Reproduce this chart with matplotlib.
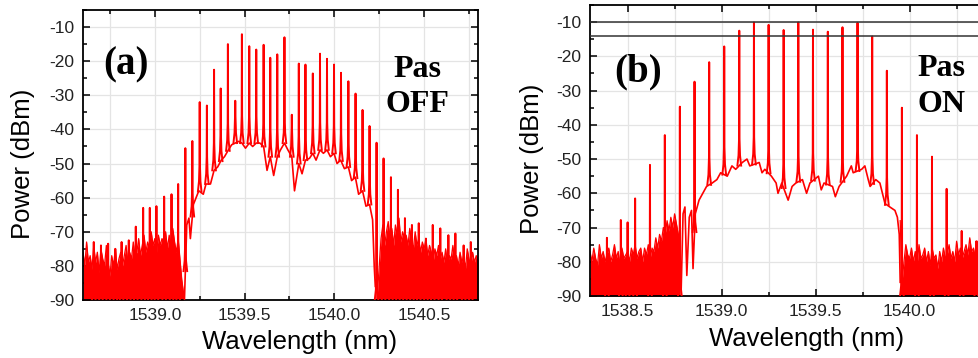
import numpy as np
import matplotlib
matplotlib.use('Agg')
import matplotlib.pyplot as plt
from matplotlib.ticker import MultipleLocator

# ---------------- Panel (a): Pas OFF ----------------
a_peak_wl = [1538.66, 1538.70, 1538.74, 1538.78, 1538.815, 1538.855, 1538.894, 1538.935, 1538.972,
             1539.009, 1539.052, 1539.093, 1539.130, 1539.170, 1539.209, 1539.250, 1539.290, 1539.330,
             1539.367, 1539.407, 1539.448, 1539.485, 1539.526, 1539.565, 1539.606, 1539.643, 1539.682,
             1539.722, 1539.763, 1539.802, 1539.839, 1539.880, 1539.920, 1539.959, 1539.998,
             1540.037, 1540.078, 1540.118, 1540.157, 1540.196, 1540.235, 1540.274, 1540.315, 1540.354,
             1540.393, 1540.432, 1540.470, 1540.510, 1540.548, 1540.590, 1540.635, 1540.674, 1540.720, 1540.760]
a_peak_db = [-73, -74, -73.5, -75, -73, -72.5, -68.5, -63, -63,
             -62.5, -59.7, -59, -56, -45.5, -43.4, -32, -33, -22.5,
             -28, -15, -31.6, -12.1, -15.6, -16.6, -15.2, -19, -18,
             -13, -35.7, -20.7, -21, -23.6, -17.8, -19.3, -21,
             -23.4, -25.9, -29.5, -34.3, -39, -43.9, -48.5, -54, -57.7,
             -66, -68, -67.5, -72, -68, -69, -71, -70.5, -74, -73]

a_cont_wl = [1539.165, 1539.178, 1539.190, 1539.198, 1539.215, 1539.230, 1539.245, 1539.270, 1539.285,
             1539.310, 1539.330, 1539.350, 1539.370, 1539.388, 1539.410, 1539.428, 1539.448, 1539.467,
             1539.485, 1539.505, 1539.526, 1539.545, 1539.565, 1539.585, 1539.606, 1539.625, 1539.643,
             1539.662, 1539.682, 1539.700, 1539.722, 1539.741, 1539.763, 1539.778, 1539.802, 1539.820,
             1539.839, 1539.861, 1539.880, 1539.898, 1539.920, 1539.939, 1539.959, 1539.978, 1539.998,
             1540.015, 1540.035, 1540.056, 1540.078, 1540.096, 1540.117, 1540.135, 1540.157, 1540.176,
             1540.196, 1540.213, 1540.222, 1540.228]
a_cont_db = [-90, -68, -66, -72, -62, -60, -58, -59, -56,
             -56, -52, -51, -49, -48, -46, -44.5, -44, -43.5,
             -44, -45.5, -44, -45, -44, -44, -45, -52, -48,
             -53.5, -48, -46, -44, -46, -48, -58, -50, -53,
             -49, -48.5, -47, -49, -46, -47, -46, -48, -47,
             -50, -49, -51.5, -51, -55, -54, -59, -58, -62.5,
             -62, -66.5, -80, -86]

a_noise_left_start = 1538.60
a_noise_left_db = [-76, -80, -73, -79, -77, -81, -74, -79, -76, -82, -75, -78, -80, -74, -79,
                   -83, -77, -80, -75, -81, -78, -76, -80, -77, -74, -79, -76, -78, -73, -77,
                   -76, -72, -77, -74, -71, -76, -73, -75, -70, -74, -72, -76, -71, -74, -72,
                   -73, -70, -75, -71, -74, -69, -73, -76, -72, -78, -84, -88]
a_noise_right_start = 1540.23
a_noise_right_db = [-84, -88, -80, -72, -68, -74, -70,
                    -67, -72, -69, -74, -68, -71, -66, -73, -70, -72,
                    -71, -74, -69, -73, -75, -70, -74, -72, -76, -73,
                    -75, -72, -77, -74, -76, -79, -75, -77, -74, -78,
                    -76, -79, -75, -80, -77, -78, -74, -79, -77, -80,
                    -76, -79, -77, -81, -75, -78, -80, -76, -79, -77, -78]

# ---------------- Panel (b): Pas ON ----------------
b_peak_wl = [1538.39, 1538.464, 1538.500, 1538.540, 1538.619, 1538.698, 1538.778, 1538.856, 1538.934,
             1539.014, 1539.094, 1539.172, 1539.250, 1539.330, 1539.408, 1539.486, 1539.565, 1539.643,
             1539.723, 1539.801, 1539.879, 1539.959, 1540.039, 1540.119, 1540.197, 1540.277, 1540.355]
b_peak_db = [-73, -67.8, -68.5, -61.5, -51.7, -43, -34.7, -27.4, -21.7,
             -17.1, -12.5, -10.1, -10.8, -12.3, -10.1, -12.2, -12.8, -11.5,
             -10.2, -14.2, -24.2, -35, -43, -49.3, -58.7, -71, -74]

b_cont_wl = [1538.785, 1538.795, 1538.805, 1538.815, 1538.828, 1538.840, 1538.848, 1538.860, 1538.880,
             1538.900, 1538.920, 1538.950, 1538.975, 1538.995, 1539.030, 1539.055, 1539.075, 1539.110,
             1539.135, 1539.150, 1539.200, 1539.215, 1539.230, 1539.265, 1539.290, 1539.300, 1539.320,
             1539.354, 1539.375, 1539.395, 1539.430, 1539.452, 1539.470, 1539.515, 1539.530, 1539.545,
             1539.590, 1539.605, 1539.625, 1539.665, 1539.690, 1539.700, 1539.745, 1539.762, 1539.780,
             1539.790, 1539.820, 1539.842, 1539.860, 1539.869, 1539.895, 1539.922, 1539.935, 1539.945,
             1539.950]
b_cont_db = [-88, -66, -64, -84, -67, -65, -82, -66, -62,
             -60, -58, -57, -56, -54, -55, -52, -53, -51,
             -50, -52, -51, -54, -53, -55, -57, -60, -57,
             -62, -58, -57, -56, -60, -57, -55, -59, -57,
             -58, -61, -58, -55, -52, -54, -53, -52, -56,
             -58, -56, -57, -61, -63, -64, -65, -67, -72,
             -86]

b_noise_left_start = 1538.30
b_noise_left_db = [-77, -80, -76, -79, -81, -75, -79, -77, -80, -78,
                   -76, -80, -78, -75, -79, -77, -81, -76, -79, -78,
                   -77, -80, -76, -78, -75, -79, -77, -76, -80, -76,
                   -78, -75, -79, -76, -77, -73, -76, -72, -74, -70,
                   -72, -68, -71, -67, -70, -66, -69, -72, -74]
b_noise_right_start = 1539.95
b_noise_right_db = [-68, -86, -80, -75, -78,
                    -79, -76, -80, -77, -81, -75, -79, -78, -76, -80,
                    -77, -81, -76, -79, -78, -82, -77, -80, -76, -79,
                    -78, -75, -79, -77, -80, -74, -78, -76, -79, -77,
                    -75, -78, -73, -77, -76, -79, -74, -78, -76, -80,
                    -77, -79, -76, -78, -80, -77, -79, -76, -78, -80, -77]

b_ref_lines = [-10, -14.2]

NOISE_STEP = 0.01
RED = '#ff0000'
plt.rcParams['font.family'] = ['Liberation Sans', 'DejaVu Sans']
plt.rcParams['axes.unicode_minus'] = False

fig = plt.figure(figsize=(9.79, 3.58), dpi=100)
W, H = 979, 358


def add_axes_px(left, top, right, bottom):
    return fig.add_axes([left / W, 1 - bottom / H, (right - left) / W, (bottom - top) / H])


def draw_spectrum(ax, pk_wl, pk_db, c_wl, c_db, noises):
    for start, vals in noises:
        x = start + NOISE_STEP * np.arange(len(vals))
        ax.fill_between(x, -90, vals, color=RED, lw=0, zorder=2)
        ax.plot(x, vals, color=RED, lw=0.9, zorder=2)
    ax.plot(c_wl, c_db, color=RED, lw=1.2, zorder=3)
    bottoms = np.interp(pk_wl, c_wl, c_db, left=-90, right=-90)
    for w, t, b in zip(pk_wl, pk_db, bottoms):
        s1 = min(b + 3, t)
        s2 = min(b + 8, t)
        ax.plot([w - 0.010, w - 0.004, w - 0.0012, w, w + 0.0012, w + 0.004, w + 0.010],
                [b, s1, s2, t, s2, s1, b], color=RED, lw=1.4, zorder=3)


def style(ax, xlim, xmajor):
    ax.set_xlim(*xlim)
    ax.set_ylim(-90, -5)
    ax.xaxis.set_major_locator(MultipleLocator(xmajor))
    ax.xaxis.set_minor_locator(MultipleLocator(xmajor / 2))
    ax.yaxis.set_major_locator(MultipleLocator(10))
    ax.yaxis.set_minor_locator(MultipleLocator(5))
    ax.xaxis.set_major_formatter(matplotlib.ticker.FormatStrFormatter('%.1f'))
    ax.grid(True, which='major', color='#e4e4e4', lw=0.9, zorder=0)
    ax.grid(True, which='minor', axis='x', color='#e4e4e4', lw=0.9, zorder=0)
    ax.set_axisbelow(True)
    ax.tick_params(which='both', direction='in', top=True, right=True,
                   labelsize=12.5, labelcolor='#222222', width=1.1)
    ax.tick_params(which='major', length=5, pad=6)
    ax.tick_params(which='minor', length=3)
    for s in ax.spines.values():
        s.set_linewidth(1.3)
        s.set_color('black')
    ax.set_xlabel('Wavelength (nm)', fontsize=18.5)
    ax.set_ylabel('Power (dBm)', fontsize=18.5, va='center')


# Panel (a)
axa = add_axes_px(83, 10, 478, 300)
draw_spectrum(axa, a_peak_wl, a_peak_db, a_cont_wl, a_cont_db,
              [(a_noise_left_start, a_noise_left_db), (a_noise_right_start, a_noise_right_db)])
style(axa, (1538.6, 1540.8), 0.5)
axa.xaxis.set_label_coords(0.549, -0.105)
axa.yaxis.set_label_coords((22.7 - 83) / 395, 0.47)
axa.text(0.108, 0.81, '(a)', transform=axa.transAxes, ha='center', va='center',
         fontsize=28, fontweight='bold', family='Liberation Serif')
axa.text(0.846, 0.735, 'Pas\nOFF', transform=axa.transAxes, ha='center', va='center',
         fontsize=23, fontweight='bold', family='Liberation Serif', linespacing=1.3)

# Panel (b)
b_xlim = (1538.3, 1540.45)
b_w = (b_xlim[1] - b_xlim[0]) * 188
axb = add_axes_px(590, 5, 590 + b_w, 296)
draw_spectrum(axb, b_peak_wl, b_peak_db, b_cont_wl, b_cont_db,
              [(b_noise_left_start, b_noise_left_db), (b_noise_right_start, b_noise_right_db)])
for yv in b_ref_lines:
    axb.axhline(yv, color='#333333', lw=1.1, zorder=4)
style(axb, b_xlim, 0.5)
axb.xaxis.set_label_coords((806.7 - 590) / b_w, -0.105)
axb.yaxis.set_label_coords((531.7 - 590) / b_w, 0.47)
axb.text((637.7 - 590) / b_w, 0.771, '(b)', transform=axb.transAxes, ha='center', va='center',
         fontsize=28, fontweight='bold', family='Liberation Serif')
axb.text((941.7 - 590) / b_w, 0.72, 'Pas\nON', transform=axb.transAxes, ha='center', va='center',
         fontsize=23, fontweight='bold', family='Liberation Serif', linespacing=1.3)

fig.savefig('out.png', dpi=100)
